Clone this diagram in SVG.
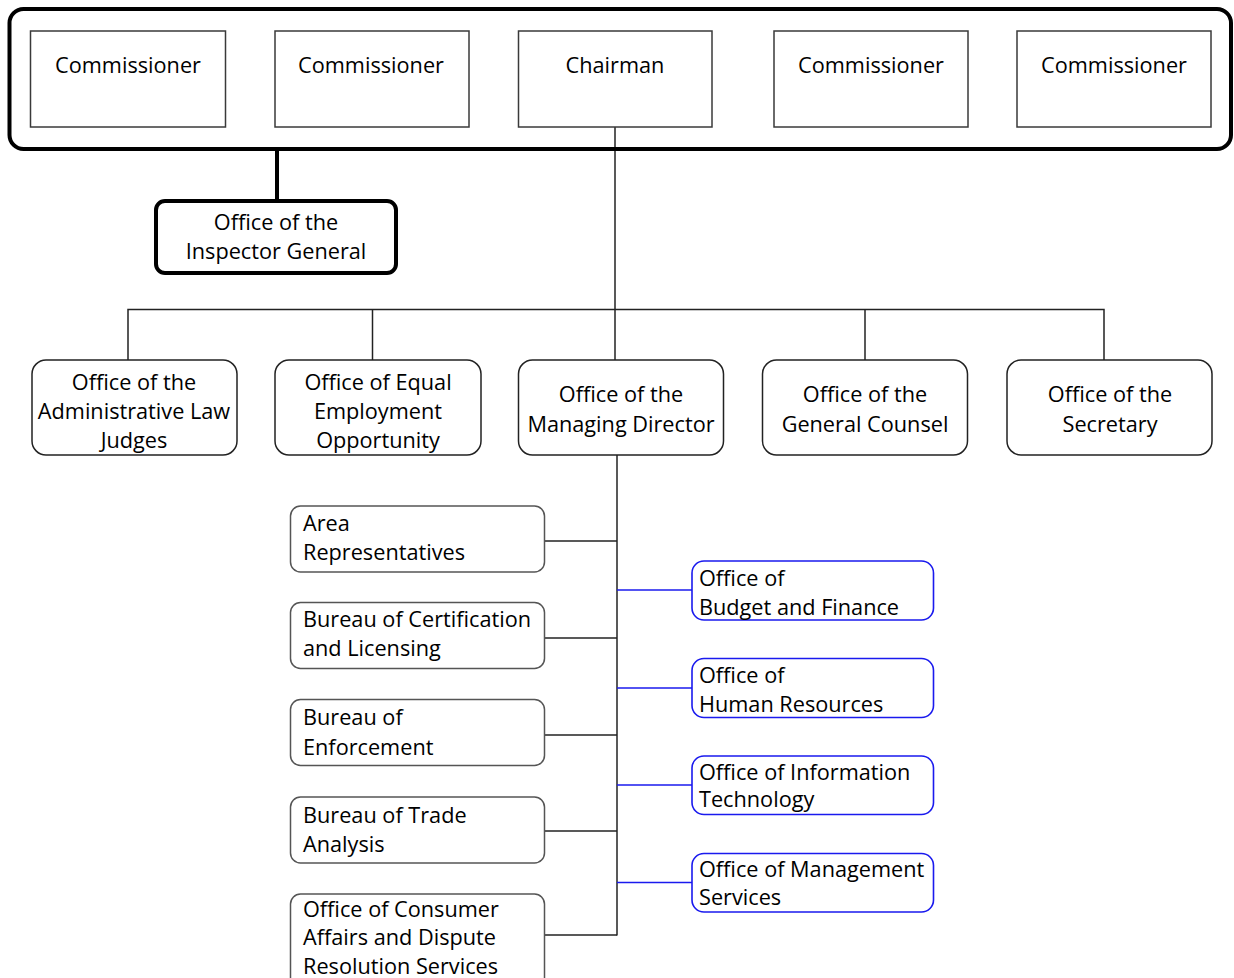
<svg xmlns="http://www.w3.org/2000/svg" width="1234" height="978" viewBox="0 0 1234 978">
<style>
text{font-family:"Open Sans","Noto Sans","Liberation Sans",sans-serif;font-size:21.7px;fill:#000}
.c{text-anchor:middle}
.sq{fill:#fff;stroke:#3a3a3a;stroke-width:1.5}
.rb{fill:#fff;stroke:#222;stroke-width:1.5}
.lb{fill:#fff;stroke:#555;stroke-width:1.5}
.bb{fill:#fff;stroke:#1a1aee;stroke-width:1.6}
.ln{fill:none;stroke:#222;stroke-width:1.5}
.bl{fill:none;stroke:#1a1aee;stroke-width:1.5}
.th{fill:none;stroke:#000;stroke-width:4}
</style>
<rect width="1234" height="978" fill="#fff"/>
<g id="connectors">
<line class="th" x1="277" y1="150" x2="277" y2="201"/>
<line class="ln" x1="615" y1="127" x2="615" y2="360"/>
<polyline class="ln" points="128,360 128,309.5 1104,309.5 1104,360"/>
<line class="ln" x1="372.5" y1="309.5" x2="372.5" y2="360"/>
<line class="ln" x1="865" y1="309.5" x2="865" y2="360"/>
<line class="ln" x1="617" y1="455" x2="617" y2="935.5"/>
<line class="ln" x1="545" y1="541" x2="617" y2="541"/>
<line class="ln" x1="545" y1="638" x2="617" y2="638"/>
<line class="ln" x1="545" y1="735" x2="617" y2="735"/>
<line class="ln" x1="545" y1="831" x2="617" y2="831"/>
<line class="ln" x1="545" y1="935" x2="617" y2="935"/>
<line class="bl" x1="617" y1="590" x2="692" y2="590"/>
<line class="bl" x1="617" y1="688" x2="692" y2="688"/>
<line class="bl" x1="617" y1="785" x2="692" y2="785"/>
<line class="bl" x1="617" y1="882.5" x2="692" y2="882.5"/>
</g>
<g id="board"><rect class="th" x="9.5" y="9" width="1221.5" height="140" rx="14"/></g>
<g id="comm1"><rect class="sq" x="30.5" y="31" width="195" height="96"/><text class="c" x="128" y="72.5">Commissioner</text></g>
<g id="comm2"><rect class="sq" x="275" y="31" width="194" height="96"/><text class="c" x="371" y="72.5">Commissioner</text></g>
<g id="chairman"><rect class="sq" x="518.5" y="31" width="193.5" height="96"/><text class="c" x="615" y="72.5">Chairman</text></g>
<g id="comm3"><rect class="sq" x="774" y="31" width="194" height="96"/><text class="c" x="871" y="72.5">Commissioner</text></g>
<g id="comm4"><rect class="sq" x="1017" y="31" width="194" height="96"/><text class="c" x="1114" y="72.5">Commissioner</text></g>
<g id="ig"><rect class="th" x="156" y="201" width="240" height="72" rx="9" style="fill:#fff"/><text class="c" x="276" y="230">Office of the</text><text class="c" x="276" y="259">Inspector General</text></g>
<g id="alj"><rect class="rb" x="32" y="360" width="205" height="95" rx="14"/><text class="c" x="134" y="390">Office of the</text><text class="c" x="134" y="419">Administrative Law</text><text class="c" x="134" y="447.5">Judges</text></g>
<g id="eeo"><rect class="rb" x="275" y="360" width="206" height="95" rx="14"/><text class="c" x="378" y="390">Office of Equal</text><text class="c" x="378" y="419">Employment</text><text class="c" x="378" y="447.5">Opportunity</text></g>
<g id="md"><rect class="rb" x="518.5" y="360" width="205" height="95" rx="14"/><text class="c" x="621" y="402">Office of the</text><text class="c" x="621" y="431.5">Managing Director</text></g>
<g id="gc"><rect class="rb" x="762.5" y="360" width="205" height="95" rx="14"/><text class="c" x="865" y="402">Office of the</text><text class="c" x="865" y="431.5">General Counsel</text></g>
<g id="sec"><rect class="rb" x="1007" y="360" width="205" height="95" rx="14"/><text class="c" x="1110" y="402">Office of the</text><text class="c" x="1110" y="431.5">Secretary</text></g>
<g id="area"><rect class="lb" x="290.5" y="506" width="254" height="66" rx="10"/><text x="303" y="531">Area</text><text x="303" y="560">Representatives</text></g>
<g id="cert"><rect class="lb" x="290.5" y="602.5" width="254" height="66" rx="10"/><text x="303" y="627">Bureau of Certification</text><text x="303" y="656">and Licensing</text></g>
<g id="enf"><rect class="lb" x="290.5" y="699.5" width="254" height="66" rx="10"/><text x="303" y="725">Bureau of</text><text x="303" y="754.5">Enforcement</text></g>
<g id="trade"><rect class="lb" x="290.5" y="797" width="254" height="66" rx="10"/><text x="303" y="823">Bureau of Trade</text><text x="303" y="852">Analysis</text></g>
<g id="consumer"><rect class="lb" x="290.5" y="894" width="254" height="100" rx="10"/><text x="303" y="916.5">Office of Consumer</text><text x="303" y="945">Affairs and Dispute</text><text x="303" y="973.5">Resolution Services</text></g>
<g id="budget"><rect class="bb" x="692" y="561" width="241.5" height="59" rx="12"/><text x="699" y="586">Office of</text><text x="699" y="615">Budget and Finance</text></g>
<g id="hr"><rect class="bb" x="692" y="658.5" width="241.5" height="59" rx="12"/><text x="699" y="683">Office of</text><text x="699" y="712">Human Resources</text></g>
<g id="it"><rect class="bb" x="692" y="756" width="241.5" height="58.5" rx="12"/><text x="699" y="779.5">Office of Information</text><text x="699" y="807">Technology</text></g>
<g id="mgmt"><rect class="bb" x="692" y="853.5" width="241.5" height="58.5" rx="12"/><text x="699" y="876.5">Office of Management</text><text x="699" y="905">Services</text></g>
</svg>
